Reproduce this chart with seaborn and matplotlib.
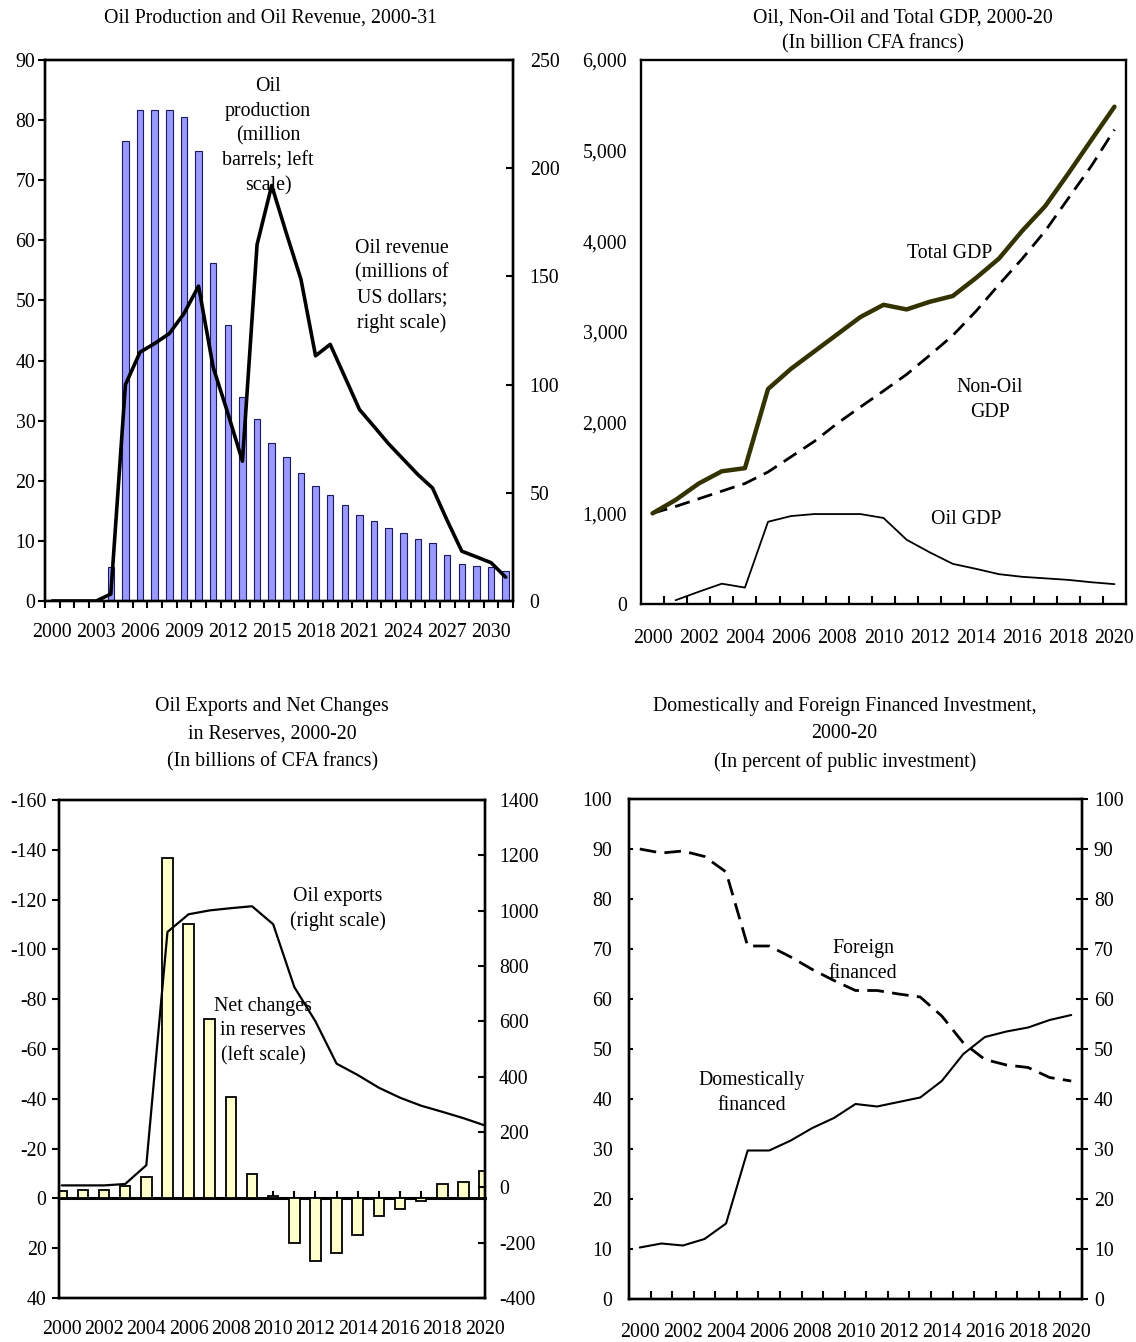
import numpy as np
import pandas as pd
import matplotlib
matplotlib.use("Agg")
import matplotlib.pyplot as plt
import seaborn as sns

# ---- Oil production (million barrels) and oil revenue (million US$), 2000-31
prod_years = list(range(2000, 2032))
oil_production = [0, 0, 0, 0, 5.6, 76.5, 81.6, 81.6, 81.6, 80.6, 74.9, 56.2, 45.9,
                  33.9, 30.2, 26.3, 23.9, 21.3, 19.2, 17.6, 15.9, 14.3, 13.3, 12.2,
                  11.3, 10.3, 9.6, 7.6, 6.2, 5.9, 5.6, 5.0]
oil_revenue = [0, 0, 0, 0, 3.2, 100, 115, 119, 123.6, 132.8, 145.5, 108, 86.8, 64.6,
               164.7, 192, 170, 148.7, 113.3, 118.6, 103.6, 88.5, 80.6, 72.6, 65.5,
               58.4, 52.2, 37.2, 23, 20.4, 17.7, 11]

# ---- GDP (billion CFA francs), 2000-20
gdp_years = list(range(2000, 2021))
total_gdp = [1000, 1148, 1329, 1464, 1498, 2371, 2595, 2785, 2975, 3165, 3300, 3249,
             3333, 3397, 3595, 3810, 4114, 4388, 4747, 5118, 5485]
nonoil_gdp = [1000, 1076, 1160, 1245, 1329, 1456, 1624, 1793, 1992, 2173, 2350, 2532,
              2743, 2962, 3228, 3523, 3806, 4114, 4473, 4831, 5232]
oil_gdp = [np.nan, 42, 135, 224, 181, 907, 970, 992, 992, 992, 949, 709, 570, 443,
           388, 329, 300, 283, 266, 240, 219]

# ---- Oil exports and net changes in reserves (billions of CFA francs), 2000-20
res_years = list(range(2000, 2021))
reserves_change = [-3, -3.3, -3.3, -4.8, -8.4, -136.6, -110.2, -71.9, -40.6, -9.8, -1,
                   17.9, 25.1, 21.9, 14.7, 7.1, 4.2, 1.0, -5.8, -6.5, -11]
oil_exports = [7, 7, 7, 12, 80, 923, 987, 1001, 1009, 1016, 951, 724, 600, 447, 406,
               360, 324, 295, 273, 250, 224]

# ---- Financing of public investment (percent), 2000-20
inv_years = list(range(2000, 2021))
domestic_share = [10.3, 11.1, 10.7, 12.0, 15.1, 29.7, 29.7, 31.7, 34.2, 36.2, 39.0,
                  38.5, 39.4, 40.3, 43.6, 49.0, 52.4, 53.5, 54.3, 55.8, 56.8]
foreign_share = [90.0, 89.2, 89.6, 88.5, 85.4, 70.6, 70.6, 68.4, 65.9, 63.7, 61.7,
                 61.7, 61.0, 60.4, 56.6, 51.2, 47.9, 46.8, 46.3, 44.3, 43.6]

sns.set_style("ticks")
plt.rcParams["font.family"] = ["Liberation Serif", "DejaVu Serif"]
plt.rcParams["axes.unicode_minus"] = False
plt.rcParams["text.color"] = "black"
plt.rcParams["axes.labelcolor"] = "black"
plt.rcParams["axes.linewidth"] = 1.7
plt.rcParams["axes.edgecolor"] = "black"
plt.rcParams["xtick.color"] = "black"
plt.rcParams["ytick.color"] = "black"
plt.rcParams["xtick.labelcolor"] = "black"
plt.rcParams["ytick.labelcolor"] = "black"
plt.rcParams["xtick.major.width"] = 1.5
plt.rcParams["ytick.major.width"] = 1.5
FS = 14.3

W, H = 1136, 1342
fig = plt.figure(figsize=(W / 100, H / 100), dpi=100)


def px_axes(left, top, right, bottom):
    return fig.add_axes([left / W, 1 - bottom / H, (right - left) / W, (bottom - top) / H])


def ftext(x, y, s, **kw):
    fig.text(x / W, 1 - y / H, s, ha="center", va="center", fontsize=FS,
             linespacing=1.4, color="black", **kw)


# =================== Top left ===================
ax1 = px_axes(45, 60, 513, 601)
df_prod = pd.DataFrame({"year": prod_years, "production": oil_production,
                        "revenue": oil_revenue})
sns.barplot(data=df_prod, x="year", y="production", native_scale=True, width=0.45,
            color="#9999ff", edgecolor="#1a1a60", linewidth=0.8, saturation=1,
            ax=ax1)
ax1.set_xlim(1999.5, 2031.5)
ax1.set_ylim(0, 90)
ax1.set_yticks(np.arange(0, 91, 10))
ax1.set_xticks(np.arange(1999.5, 2032, 1))
ax1.set_xticklabels([])
ax1.set_xticks(np.arange(2000, 2031, 3), minor=True)
ax1.set_xticklabels([str(y) for y in range(2000, 2031, 3)], minor=True, fontsize=FS)
ax1.tick_params(axis="x", which="major", direction="out", length=5)
ax1.tick_params(axis="x", which="minor", length=0, pad=16)
ax1.tick_params(axis="y", direction="out", length=5, pad=2, labelsize=FS)
ax1.set_xlabel("")
ax1.set_ylabel("")
ax1b = ax1.twinx()
sns.lineplot(data=df_prod, x="year", y="revenue", color="black", linewidth=2.6,
             ax=ax1b)
ax1b.set_ylim(0, 250)
ax1b.set_yticks(np.arange(0, 251, 50))
ax1b.tick_params(axis="y", direction="in", length=5, pad=12, labelsize=FS)
ax1b.set_ylabel("")
ax1b.set_xlim(1999.5, 2031.5)
for sp in ax1b.spines.values():
    sp.set_linewidth(1.7)

ftext(271, 18, "Oil Production and Oil Revenue, 2000-31")
ftext(268, 136, "Oil\nproduction\n(million\nbarrels; left\nscale)")
ftext(402, 286, "Oil revenue\n(millions of\nUS dollars;\nright scale)")

# =================== Top right ===================
ax2 = px_axes(641, 60, 1126, 604)
df_gdp = pd.DataFrame({"year": gdp_years, "total": total_gdp, "nonoil": nonoil_gdp,
                       "oil": oil_gdp})
sns.lineplot(data=df_gdp, x="year", y="nonoil", color="black", linewidth=2.0,
             dashes=False, ax=ax2)
ax2.lines[-1].set_linestyle((0, (5.5, 3)))
sns.lineplot(data=df_gdp, x="year", y="total", color="#333300", linewidth=3.2, ax=ax2)
sns.lineplot(data=df_gdp, x="year", y="oil", color="black", linewidth=1.3, ax=ax2)
ax2.set_xlim(1999.5, 2020.5)
ax2.set_ylim(0, 6000)
ax2.set_yticks(np.arange(0, 6001, 1000))
ax2.set_yticklabels([f"{v:,}" for v in range(0, 6001, 1000)])
ax2.set_xticks(np.arange(2000.5, 2020, 1))
ax2.set_xticklabels([])
ax2.set_xticks(np.arange(2000, 2021, 2), minor=True)
ax2.set_xticklabels([str(y) for y in range(2000, 2021, 2)], minor=True, fontsize=FS)
ax2.tick_params(axis="x", which="major", direction="in", length=6)
ax2.tick_params(axis="x", which="minor", length=0, pad=18)
ax2.tick_params(axis="y", length=0, pad=10, labelsize=FS)
ax2.set_xlabel("")
ax2.set_ylabel("")

ftext(903, 18, "Oil, Non-Oil and Total GDP, 2000-20")
ftext(873, 44, "(In billion CFA francs)")
ftext(950, 253, "Total GDP")
ftext(990, 400, "Non-Oil\nGDP")
ftext(966, 520, "Oil GDP")

# =================== Bottom left ===================
ax3 = px_axes(59, 800, 485, 1298)
df_res = pd.DataFrame({"year": res_years, "reserves": reserves_change,
                       "exports": oil_exports})
sns.barplot(data=df_res, x="year", y="reserves", native_scale=True, width=0.5,
            color="#ffffcc", edgecolor="black", linewidth=1.3, saturation=1, ax=ax3)
xl3 = (1999.87, 2020.02)
ax3.set_xlim(*xl3)
ax3.set_ylim(40, -160)
ax3.set_yticks(np.arange(-160, 41, 20))
ax3.set_xticks(np.arange(2000, 2021, 2))
ax3.set_xticklabels([str(y) for y in range(2000, 2021, 2)], fontsize=FS)
ax3.tick_params(axis="x", length=0, pad=16)
ax3.tick_params(axis="y", direction="out", length=5, pad=4, labelsize=FS)
ax3.set_xlabel("")
ax3.set_ylabel("")
# zero line of the left scale, with a tick for every year
zero_pos = (40 - 0) / (40 - (-160))
zax = ax3.secondary_xaxis(zero_pos)
zax.set_xticks(np.arange(2000, 2021, 1))
zax.set_xticklabels([])
zax.tick_params(axis="x", direction="in", length=5, width=1.5)
zax.spines["bottom"].set_linewidth(2.2)
ax3b = ax3.twinx()
sns.lineplot(data=df_res, x="year", y="exports", color="black", linewidth=1.6, ax=ax3b)
ax3b.set_xlim(*xl3)
ax3b.set_ylim(-400, 1400)
ax3b.set_yticks(np.arange(-400, 1401, 200))
ax3b.tick_params(axis="y", direction="in", length=5, pad=10, labelsize=FS)
ax3b.set_ylabel("")
for sp in ax3b.spines.values():
    sp.set_linewidth(1.7)

ftext(272, 706, "Oil Exports and Net Changes")
ftext(272, 734, "in Reserves, 2000-20")
ftext(273, 762, "(In billions of CFA francs)")
ftext(338, 909, "Oil exports\n(right scale)")
ftext(263, 1031, "Net changes\nin reserves\n(left scale)")

# =================== Bottom right ===================
ax4 = px_axes(629, 799, 1082, 1299)
df_inv = pd.DataFrame({"year": inv_years, "domestic": domestic_share,
                       "foreign": foreign_share})
sns.lineplot(data=df_inv, x="year", y="domestic", color="black", linewidth=1.5, ax=ax4)
sns.lineplot(data=df_inv, x="year", y="foreign", color="black", linewidth=2.0, ax=ax4)
ax4.lines[-1].set_linestyle((0, (6, 3)))
ax4.set_xlim(1999.5, 2020.5)
ax4.set_ylim(0, 100)
ax4.set_yticks(np.arange(0, 101, 10))
ax4.set_xticks(np.arange(2000.5, 2020, 1))
ax4.set_xticklabels([])
ax4.set_xticks(np.arange(2000, 2021, 2), minor=True)
ax4.set_xticklabels([str(y) for y in range(2000, 2021, 2)], minor=True, fontsize=FS)
ax4.tick_params(axis="x", which="major", direction="in", length=6)
ax4.tick_params(axis="x", which="minor", length=0, pad=17)
ax4.tick_params(axis="y", direction="in", length=3, pad=12, labelsize=FS)
ax4.set_xlabel("")
ax4.set_ylabel("")
ax4b = ax4.twinx()
ax4b.set_ylim(0, 100)
ax4b.set_yticks(np.arange(0, 101, 10))
ax4b.tick_params(axis="y", direction="inout", length=9, pad=4, labelsize=FS)
for sp in ax4b.spines.values():
    sp.set_linewidth(1.7)

ftext(845, 706, "Domestically and Foreign Financed Investment,")
ftext(844, 734, "2000-20")
ftext(845, 762, "(In percent of public investment)")
ftext(863, 961, "Foreign\nfinanced")
ftext(752, 1093, "Domestically\nfinanced")

fig.savefig("out.png", dpi=100, facecolor="white")
